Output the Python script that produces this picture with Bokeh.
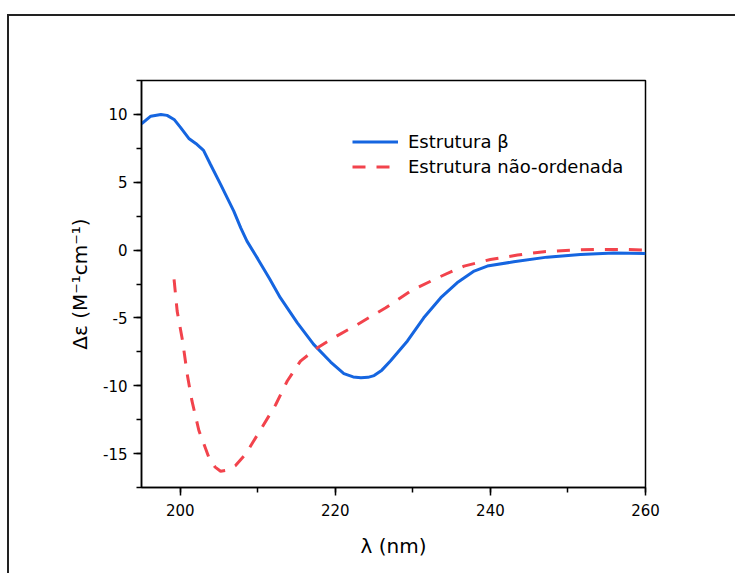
from bokeh.plotting import figure
from bokeh.models import SingleIntervalTicker, Legend, LegendItem, PrintfTickFormatter
from bokeh.embed import file_html
from bokeh.resources import INLINE

# --- data ---
beta_nm = [195.0, 196.2, 197.5, 198.3, 199.2, 200.0, 201.1, 202.0, 203.0, 203.9,
           205.2, 206.9, 207.8, 208.6, 210.0, 211.5, 212.9, 215.1, 217.2, 219.4,
           221.1, 222.3, 223.3, 224.2, 225.0, 226.0, 227.1, 229.3, 231.4, 233.6,
           235.7, 237.9, 239.6, 243.0, 247.3, 251.6, 255.9, 260.0]
beta_de = [9.31, 9.87, 10.0, 9.93, 9.63, 9.06, 8.23, 7.86, 7.35, 6.31,
           4.84, 2.87, 1.64, 0.66, -0.65, -2.1, -3.51, -5.36, -6.95, -8.25,
           -9.1, -9.35, -9.41, -9.38, -9.25, -8.85, -8.18, -6.7, -4.99, -3.51,
           -2.41, -1.55, -1.18, -0.86, -0.52, -0.32, -0.22, -0.25]

rand_nm = [199.2, 199.6, 200.3, 200.9, 201.5, 202.4, 203.7, 204.5, 205.2, 206.2,
           207.1, 208.4, 210.3, 212.3, 213.8, 215.5, 217.7, 219.8, 222.8, 226.5,
           229.7, 233.2, 236.6, 240.0, 243.5, 246.9, 250.4, 253.8, 257.3, 260.0]
rand_de = [-2.16, -4.5, -6.7, -9.16, -11.1, -13.3, -15.3, -16.0, -16.3, -16.2,
           -15.9, -15.06, -13.3, -11.4, -9.65, -8.18, -7.2, -6.46, -5.5, -4.25,
           -3.02, -2.04, -1.18, -0.69, -0.37, -0.12, 0.0, 0.05, 0.05, 0.0]

series_names = ["Estrutura \u03b2", "Estrutura n\u00e3o-ordenada"]
x_label = "\u03bb (nm)"
y_label = "\u0394\u03b5 (M\u207b\u00b9cm\u207b\u00b9)"

FONT = "DejaVu Sans"

p = figure(width=728, height=559, x_range=(195, 260), y_range=(-17.5, 12.5),
           output_backend="svg", toolbar_location=None,
           min_border_left=132, min_border_top=64, min_border_right=92, min_border_bottom=88,
           margin=(14, 0, 0, 7),
           styles={"border-left": "2px solid #222", "border-top": "2px solid #222"})
p.background_fill_color = "white"
p.border_fill_color = "white"
p.outline_line_color = "black"
p.outline_line_width = 1.5
p.grid.visible = False

p.xaxis.ticker = SingleIntervalTicker(interval=20, num_minor_ticks=2)
p.yaxis.ticker = SingleIntervalTicker(interval=5, num_minor_ticks=2)
p.xaxis.formatter = PrintfTickFormatter(format="%d")
p.yaxis.formatter = PrintfTickFormatter(format="%d")
for ax in (p.xaxis[0], p.yaxis[0]):
    ax.axis_line_color = "black"
    ax.axis_line_width = 1.5
    ax.major_tick_line_color = "black"
    ax.major_tick_line_width = 1.5
    ax.minor_tick_line_color = "black"
    ax.minor_tick_line_width = 1.5
    ax.major_tick_out = 8
    ax.major_tick_in = 0
    ax.minor_tick_out = 5
    ax.minor_tick_in = 0
    ax.major_label_text_font = FONT
    ax.major_label_text_font_size = "15px"
    ax.major_label_text_color = "black"
    ax.axis_label_text_font = FONT
    ax.axis_label_text_font_size = "20px"
    ax.axis_label_text_font_style = "normal"
    ax.axis_label_text_color = "black"
p.xaxis.axis_label = x_label
p.yaxis.axis_label = y_label
p.xaxis.major_label_standoff = 8
p.yaxis.major_label_standoff = 6
p.xaxis.axis_label_standoff = 15
p.yaxis.axis_label_standoff = 8

r1 = p.line(beta_nm, beta_de, line_color="#1565e0", line_width=3)
r2 = p.line(rand_nm, rand_de, line_color="#f2434c", line_width=3, line_dash="13 11")

legend = Legend(items=[LegendItem(label=series_names[0], renderers=[r1]),
                       LegendItem(label=series_names[1], renderers=[r2])],
                location=(211, 308), orientation="vertical")
legend.border_line_color = None
legend.background_fill_alpha = 0
legend.padding = 0
legend.margin = 0
legend.spacing = 0
legend.glyph_width = 46
legend.glyph_height = 25
legend.label_height = 25
legend.label_standoff = 10
legend.label_text_font = FONT
legend.label_text_font_size = "18px"
legend.label_text_color = "black"
p.add_layout(legend, "center")

open("out.html", "w").write(file_html(p, INLINE))
